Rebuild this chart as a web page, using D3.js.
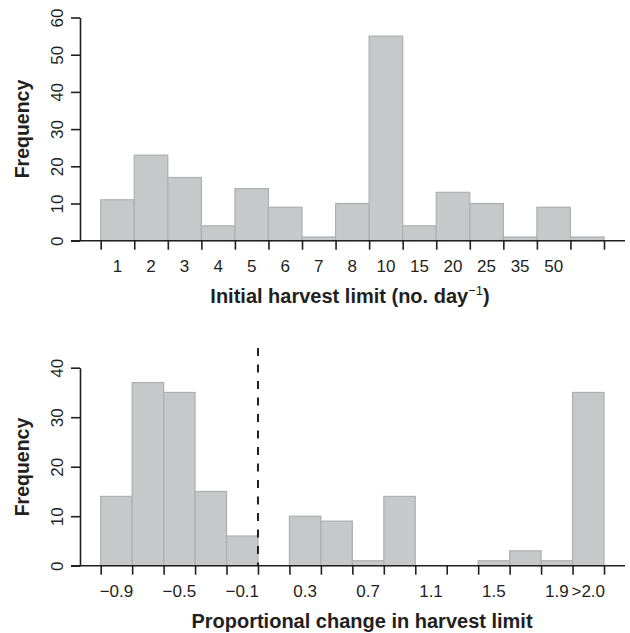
<!DOCTYPE html>
<html>
<head>
<meta charset="utf-8">
<script src="https://cdn.jsdelivr.net/npm/d3@7"></script>
<style>
  body { margin: 0; background: #fff; }
  svg { display: block; font-family: "Liberation Sans", Arial, sans-serif; }
</style>
</head>
<body>
<script>
var width = 630, height = 633;

// top panel: initial harvest limit
var harvestBins = ["1", "2", "3", "4", "5", "6", "7", "8", "10", "15", "20", "25", "35", "50", ""];
var harvestCounts = [11, 23, 17, 4, 14, 9, 1, 10, 55, 4, 13, 10, 1, 9, 1];
var harvestYTicks = [0, 10, 20, 30, 40, 50, 60];

// bottom panel: proportional change
var changeBins = ["−0.9", "−0.7", "−0.5", "−0.3", "−0.1", "0.1", "0.3", "0.5", "0.7", "0.9", "1.1", "1.3", "1.5", "1.7", "1.9", ">2.0"];
var changeCounts = [14, 37, 35, 15, 6, 0, 10, 9, 1, 14, 0, 0, 1, 3, 1, 35];
var changeTickLabels = ["−0.9", "−0.5", "−0.1", "0.3", "0.7", "1.1", "1.5", "1.9", ">2.0"];
var changeYTicks = [0, 10, 20, 30, 40];
var zeroEdge = 5; // bin edge where change = 0

var axisColor = "#231f20";
var barFill = "#c7c8ca", barStroke = "#aeafb1";

var svg = d3.select("body").append("svg")
  .attr("width", width)
  .attr("height", height);

function panel(opts) {
  var n = opts.bins.length;
  var left = 100.7, right = 604;
  var xBand = d3.scaleBand().domain(opts.bins).range([left, right]).padding(0);
  var xEdge = d3.scaleLinear().domain([0, n]).range([left, right]);
  var y = d3.scaleLinear().domain([0, opts.yMax]).range([opts.y0, opts.yTop]);

  var g = svg.append("g");

  // bars (empty bins skipped)
  var rows = opts.counts.map(function (c, i) { return { i: i, c: c }; })
    .filter(function (d) { return d.c > 0; });
  g.selectAll("rect.bar")
    .data(rows)
    .enter()
    .append("rect")
    .attr("class", "bar")
    .attr("x", function (d) { return xEdge(d.i); })
    .attr("width", xBand.bandwidth())
    .attr("y", function (d) { return y(d.c); })
    .attr("height", function (d) { return y(0) - y(d.c); })
    .attr("fill", barFill)
    .attr("stroke", barStroke)
    .attr("stroke-width", 1.2);

  // x axis baseline across the panel
  g.append("line")
    .attr("x1", 71).attr("x2", 625)
    .attr("y1", y(0)).attr("y2", y(0))
    .attr("stroke", axisColor).attr("stroke-width", 1.6);

  // bin edge ticks
  var edgeAxis = g.append("g")
    .attr("transform", "translate(0," + y(0) + ")")
    .call(d3.axisBottom(xEdge).tickValues(d3.range(n + 1)).tickFormat("").tickSize(9).tickSizeOuter(0));
  edgeAxis.select(".domain").remove();
  edgeAxis.selectAll(".tick line").attr("stroke", axisColor).attr("stroke-width", 1.6);

  // bin labels
  var labAxis = g.append("g")
    .attr("transform", "translate(0," + y(0) + ")")
    .call(d3.axisBottom(xBand).tickValues(opts.tickLabels).tickSize(0).tickPadding(19));
  labAxis.select(".domain").remove();
  labAxis.selectAll("text")
    .attr("font-size", 17).attr("fill", axisColor)
    .attr("font-family", "'Liberation Sans', Arial, sans-serif");

  // y axis
  var yAxis = g.append("g")
    .attr("transform", "translate(80,0)")
    .call(d3.axisLeft(y).tickValues(opts.yTicks).tickSize(9).tickSizeOuter(0));
  yAxis.select(".domain").attr("stroke", axisColor).attr("stroke-width", 1.6);
  yAxis.selectAll(".tick line").attr("stroke", axisColor).attr("stroke-width", 1.6);
  yAxis.selectAll(".tick text")
    .attr("x", null).attr("dy", null)
    .attr("transform", "translate(-17,0) rotate(-90)")
    .attr("text-anchor", "middle")
    .attr("font-size", 17).attr("fill", axisColor)
    .attr("font-family", "'Liberation Sans', Arial, sans-serif");

  // y title
  g.append("text")
    .attr("transform", "translate(29," + opts.yTitleY + ") rotate(-90)")
    .attr("text-anchor", "middle")
    .attr("font-size", 19.5).attr("font-weight", "bold").attr("fill", axisColor)
    .text("Frequency");

  return { g: g, xEdge: xEdge, y: y };
}

var top1 = panel({
  bins: harvestBins, counts: harvestCounts, tickLabels: harvestBins.slice(0, 14),
  yTicks: harvestYTicks, yMax: 60, y0: 240.7, yTop: 17.5, yTitleY: 129
});
var xt = top1.g.append("text")
  .attr("x", 350).attr("y", 302.7)
  .attr("text-anchor", "middle")
  .attr("font-size", 20).attr("font-weight", "bold").attr("fill", axisColor);
xt.append("tspan").text("Initial harvest limit (no. day");
xt.append("tspan").attr("font-size", 13).attr("font-weight", "normal").attr("dy", -8).text("−1");
xt.append("tspan").attr("dy", 8).text(")");

var bot = panel({
  bins: changeBins, counts: changeCounts, tickLabels: changeTickLabels,
  yTicks: changeYTicks, yMax: 40, y0: 565.7, yTop: 367.7, yTitleY: 467
});
bot.g.append("line")
  .attr("x1", bot.xEdge(zeroEdge)).attr("x2", bot.xEdge(zeroEdge))
  .attr("y1", 348).attr("y2", bot.y(0))
  .attr("stroke", axisColor).attr("stroke-width", 2)
  .attr("stroke-dasharray", "8,8.5");
bot.g.append("text")
  .attr("x", 362).attr("y", 628)
  .attr("text-anchor", "middle")
  .attr("font-size", 20).attr("font-weight", "bold").attr("fill", axisColor)
  .text("Proportional change in harvest limit");
</script>
</body>
</html>
